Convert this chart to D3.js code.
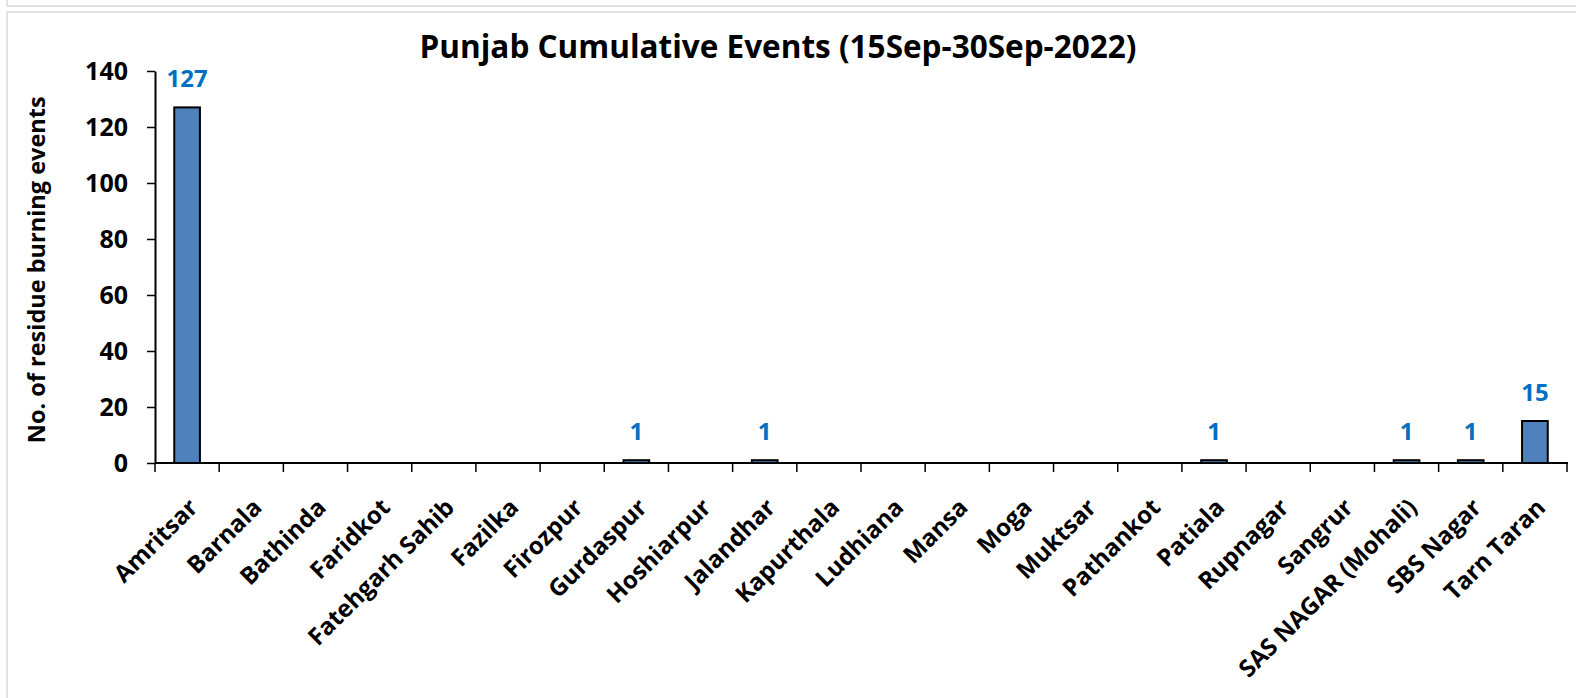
<!DOCTYPE html>
<html>
<head>
<meta charset="utf-8">
<script src="https://cdn.jsdelivr.net/npm/d3@7"></script>
<style>
  body { margin: 0; background: #fff; }
  text { font-family: "Open Sans", "Liberation Sans", sans-serif; font-weight: bold; }
</style>
</head>
<body>
<svg width="1576" height="698"></svg>
<script>
// districts and cumulative residue burning events
var districts = ["Amritsar", "Barnala", "Bathinda", "Faridkot", "Fatehgarh Sahib", "Fazilka",
  "Firozpur", "Gurdaspur", "Hoshiarpur", "Jalandhar", "Kapurthala", "Ludhiana", "Mansa",
  "Moga", "Muktsar", "Pathankot", "Patiala", "Rupnagar", "Sangrur", "SAS NAGAR (Mohali)",
  "SBS Nagar", "Tarn Taran"];
var events = [127, 0, 0, 0, 0, 0, 0, 1, 0, 1, 0, 0, 0, 0, 0, 0, 1, 0, 0, 1, 1, 15];
var yTicks = [0, 20, 40, 60, 80, 100, 120, 140];

var svg = d3.select("svg");

// chart frames (previous box edge + this box)
svg.append("rect").attr("x", 7).attr("y", -20).attr("width", 1600).attr("height", 26)
  .attr("fill", "none").attr("stroke", "#d9d9d9").attr("stroke-width", 1.5);
svg.append("rect").attr("x", 7).attr("y", 12).attr("width", 1600).attr("height", 720)
  .attr("fill", "none").attr("stroke", "#d9d9d9").attr("stroke-width", 1.5);

var x = d3.scaleBand()
    .domain(districts)
    .range([155, 1567])
    .paddingInner(0.6)
    .paddingOuter(0.3);

var y = d3.scaleLinear()
    .domain([0, 140])
    .range([463, 71]);

// title
svg.append("text")
    .attr("x", 778)
    .attr("y", 58)
    .attr("text-anchor", "middle")
    .attr("font-size", 31.5)
    .attr("fill", "#000")
    .text("Punjab Cumulative Events (15Sep-30Sep-2022)");

// y axis label
svg.append("text")
    .attr("transform", "translate(45," + y(69) + ") rotate(-90)")
    .attr("text-anchor", "middle")
    .attr("font-size", 23.5)
    .attr("fill", "#000")
    .text("No. of residue burning events");

// y axis
var yAxis = svg.append("g")
    .attr("transform", "translate(155,0)")
    .call(d3.axisLeft(y).tickValues(yTicks).tickSize(8).tickPadding(19).tickSizeOuter(0));
yAxis.selectAll("text").attr("font-size", 25).attr("fill", "#000")
    .style("font-family", "'Open Sans', sans-serif").style("font-weight", "bold");
yAxis.selectAll("line").attr("stroke", "#000").attr("stroke-width", 1.5);
yAxis.select(".domain").attr("stroke", "#000").attr("stroke-width", 2);

// bars with data labels (zero values draw nothing)
var bars = svg.append("g");
events.forEach(function(v, i) {
  if (v <= 0) return;
  bars.append("rect")
    .attr("x", x(districts[i]))
    .attr("y", y(v))
    .attr("width", x.bandwidth())
    .attr("height", y(0) - y(v))
    .attr("fill", "#4f81bd")
    .attr("stroke", "#000")
    .attr("stroke-width", 2);
  bars.append("text")
    .attr("x", x(districts[i]) + x.bandwidth() / 2)
    .attr("y", y(v) - 20)
    .attr("text-anchor", "middle")
    .attr("font-size", 24)
    .attr("fill", "#0070c0")
    .text(v);
});

// x axis, ticks at category boundaries
var xAxis = svg.append("g").attr("transform", "translate(0," + y(0) + ")");
xAxis.append("line")
    .attr("x1", 155).attr("x2", 1568)
    .attr("stroke", "#000").attr("stroke-width", 2);
var bounds = d3.range(districts.length + 1).map(function(i) { return 155 + i * x.step(); });
xAxis.selectAll(".tk")
  .data(bounds)
  .enter().append("line")
    .attr("x1", function(d) { return d; })
    .attr("x2", function(d) { return d; })
    .attr("y1", 0).attr("y2", 9)
    .attr("stroke", "#000").attr("stroke-width", 1.5);

xAxis.selectAll(".lbl")
  .data(districts)
  .enter().append("text")
    .attr("transform", function(d) {
      return "translate(" + (x(d) + x.bandwidth() / 2 + 12) + ",46) rotate(-45)";
    })
    .attr("text-anchor", "end")
    .attr("font-size", 24)
    .attr("fill", "#000")
    .text(function(d) { return d; });
</script>
</body>
</html>
